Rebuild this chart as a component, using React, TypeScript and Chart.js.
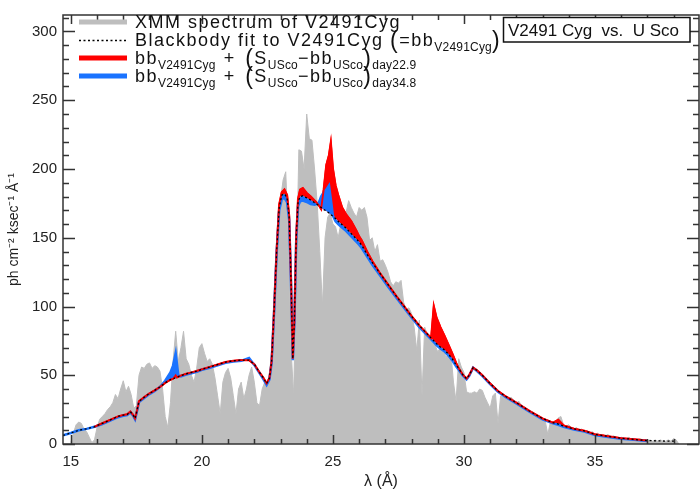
import React, { useEffect, useRef } from "react";
import { Chart, registerables } from "chart.js";

Chart.register(...registerables);

// ---------------- data ----------------
const X_MIN = 14.7;
const X_MAX = 38.97;
const Y_MIN = 0;
const Y_MAX = 312;
const xTickValues = [15, 20, 25, 30, 35];
const yTickValues = [0, 50, 100, 150, 200, 250, 300];

// XMM spectrum of V2491 Cyg, sampled every 0.1 Å starting at 15.0 Å
const xmmStart = 15.0;
const xmmStep = 0.1;
const xmmFlux = [
  1, 8, 14, 16, 15, 11, 9, 5, 1, 3,
  12, 18, 20, 22, 25, 27, 30, 36, 33, 40,
  46, 38, 42, 36, 26, 28, 50, 56, 55, 58,
  59, 55, 57, 56, 53, 40, 20, 12, 30, 60,
  82, 60, 70, 82, 62, 58, 50, 45, 55, 70,
  73, 66, 60, 62, 58, 48, 35, 22, 45, 52,
  55, 48, 35, 22, 40, 45, 33, 40, 50, 56,
  45, 30, 28, 40, 45, 42, 55, 75, 115, 167,
  178, 192, 198, 150, 70, 35, 120, 214, 213, 200,
  240, 222, 221, 200, 175, 140, 100, 150, 165, 168,
  160, 158, 150, 160, 170, 168, 177, 172, 168, 165,
  172, 170, 172, 165, 148, 150, 140, 145, 133, 134,
  130, 125, 118, 115, 118, 117, 119, 103, 98, 99,
  95, 85, 68, 90, 35, 85, 80, 76, 74, 72,
  67, 70, 74, 63, 65, 67, 45, 31, 62, 56,
  52, 38, 37, 37, 38, 37, 40, 39, 34, 30,
  26, 35, 37, 15, 35, 34, 35, 33, 34, 32,
  30, 31, 28, 27, 25, 24, 22, 22, 20, 19,
  19, 17, 7, 16, 15, 16, 19, 20, 14, 13,
  14, 12, 11, 12, 10, 11, 9, 10, 8, 9,
  7, 8, 6, 7, 6, 7, 5, 6, 5, 4,
  5, 4, 4, 5, 3, 4, 3, 4, 3, 3,
  2, 3, 2, 3, 2, 3, 2, 2, 3, 2,
  4, 3, 0,
];

// wavelength grid of the model curves
const modelWave = [
  14.7, 15.0, 15.3, 15.6, 15.9, 16.2, 16.5, 16.8, 17.0, 17.15,
  17.27, 17.38, 17.45, 17.52, 17.6, 17.8, 18.0, 18.2, 18.4, 18.6,
  18.8, 18.9, 19.0, 19.05, 19.1, 19.2, 19.4, 19.6, 19.8, 20.0,
  20.3, 20.6, 20.9, 21.2, 21.5, 21.8, 22.0, 22.2, 22.35, 22.47,
  22.58, 22.66, 22.75, 22.85, 22.95, 23.05, 23.15, 23.25, 23.33, 23.4,
  23.47, 23.53, 23.6, 23.67, 23.75, 23.85, 24.0, 24.15, 24.3, 24.45,
  24.55, 24.65, 24.75, 24.85, 24.92, 25.0, 25.1, 25.2, 25.35, 25.5,
  25.7, 25.9, 26.0, 26.1, 26.3, 26.5, 26.8, 27.1, 27.4, 27.7,
  28.0, 28.3, 28.6, 28.75, 28.85, 28.95, 29.1, 29.25, 29.4, 29.55,
  29.7, 29.8, 29.95, 30.1, 30.2, 30.35, 30.5, 30.7, 31.0, 31.3,
  31.6, 32.0, 32.5, 33.0, 33.4, 33.6, 33.8, 34.2, 34.6, 35.0,
  35.5, 36.0, 36.5, 37.0, 37.5, 38.1,
];

// Blackbody fit to V2491 Cyg
const bbFlux = [
  6.3, 8, 10, 11, 12.5, 15, 17.5, 20, 21, 21.5,
  23.5, 21, 18.5, 24, 31, 34, 36.8, 39, 41.5, 44.5,
  46.8, 47.5, 48.2, 48.5, 49, 49.7, 51, 52, 53, 54.3,
  56, 57.8, 59.5, 60.5, 61, 61, 58, 52, 48, 44,
  48, 60, 95, 139, 172, 181, 182, 179, 165, 120,
  62, 90, 150, 176, 180, 180.5, 179, 177.5, 175.5, 173.5,
  172, 170.5, 169.5, 168, 167, 165.5, 164, 162, 159.5, 157,
  153, 149, 147, 144.5, 138, 132, 124, 116, 108, 100.5,
  93, 86, 80, 77, 75, 73, 70.5, 68.5, 65.5, 62,
  57.5, 55, 50.5, 47.5, 50, 55.5, 53.5, 50, 44, 38.5,
  34.5, 30, 24, 18.5, 15.5, 14.5, 13, 11, 9.5, 7,
  5.5, 4.2, 3.3, 2.5, 2.2, 2.0,
];

// bb + (S_USco - bb_USco) day 22.9
const day229Flux = [
  null, null, null, null, 12.5, 15, 17.5, 20, 21, 21.5,
  23.5, 21, 18.5, 24, 31, 34, 36.8, 39, 41.5, 44.5,
  46.8, 47.5, 50, 48.5, 49, 49.7, 51, 52, 53, 54.3,
  56, 57.8, 59.5, 60.5, 61, 61, 58, 52, 48, 44,
  48, 60, 95, 140, 174, 183, 185, 181, 166, 120,
  62, 90, 151, 178, 185, 186, 182.5, 180, 177, 174,
  171, 185, 203, 210, 219, 200, 188, 181, 172, 167,
  162, 155, 151, 148, 140, 133, 124, 116, 108, 100.5,
  93, 86, 80, 77, 100, 92, 85, 79, 72.5, 66,
  59, 55, 50.5, 47.5, 50, 55.5, 53.5, 50, 44, 38.5,
  34.5, 30, 24, 18.5, 15.5, 17.5, 13.5, 11, 9.5, 7,
  5.5, 4.2, 3.3, 2.5, null, null,
];

// bb + (S_USco - bb_USco) day 34.8
const day348Flux = [
  6.3, 8, 10, 11, 12.5, 14.5, 17, 19.5, 20.5, 21,
  23, 20.5, 18, 23.5, 30.5, 33.5, 36.3, 38.5, 41.5, 46,
  52, 57, 66, 58, 50, 49.2, 50.5, 51.5, 52.5, 54,
  55.5, 57.3, 59, 60, 60.5, 62.5, 57.5, 51.5, 47, 43,
  47, 59, 94, 138, 170, 178, 179, 176, 163, 118,
  61, 89, 148, 173, 176.5, 177, 176, 174.5, 174, 175,
  180, 183, 185, 188, 178, 166, 162, 160, 157.5, 155,
  151, 147, 145, 142.5, 136.5, 130.5, 122.5, 114.5, 107, 99.5,
  92, 85, 79, 76, 74, 72, 69.5, 67.5, 64.5, 61,
  56.5, 54, 50, 47, 49.5, 55.5, 53, 49.5, 43.5, 38,
  34, 29.5, 23.5, 18, 15, 14, 12.5, 10.5, 9, 6.5,
  5, 3.8, 3, 2.2, null, null,
];

// ---------------- styling ----------------
const FONT = "'Liberation Sans', Arial, sans-serif";
const GRAY = "#bebebe";
const RED = "#ff0000";
const BLUE = "#1a73ff";
const AXIS = "#333333";

type Part = { t: string; size: number; dy?: number; sp?: number };

function drawSpaced(ctx: CanvasRenderingContext2D, text: string, x: number, y: number, sp: number) {
  for (const ch of text) {
    ctx.fillText(ch, x, y);
    x += ctx.measureText(ch).width + sp;
  }
  return x;
}

function drawRich(ctx: CanvasRenderingContext2D, x: number, baseline: number, parts: Part[]) {
  for (const p of parts) {
    ctx.font = `${p.size}px ${FONT}`;
    const sp = p.sp !== undefined ? p.sp : p.size >= 16 ? 1.5 : 0.2;
    x = drawSpaced(ctx, p.t, x, baseline + (p.dy || 0), sp);
  }
  return x;
}

const framePlugin = {
  id: "frameTicks",
  afterDraw(chart: any) {
    const { ctx, chartArea: a, scales } = chart;
    const xs = scales.x;
    const ys = scales.y;
    ctx.save();
    ctx.strokeStyle = AXIS;
    ctx.lineWidth = 1.5;
    ctx.strokeRect(a.left, a.top, a.right - a.left, a.bottom - a.top);
    ctx.beginPath();
    for (let v = 15; v <= 38; v += 1) {
      const px = Math.round(xs.getPixelForValue(v)) + 0.5;
      const len = v % 5 === 0 ? 9 : 5;
      ctx.moveTo(px, a.bottom);
      ctx.lineTo(px, a.bottom - len);
      ctx.moveTo(px, a.top);
      ctx.lineTo(px, a.top + len);
    }
    for (let v = 0; v <= 310; v += 10) {
      const py = Math.round(ys.getPixelForValue(v)) + 0.5;
      const len = v % 50 === 0 ? 12 : 6;
      ctx.moveTo(a.left, py);
      ctx.lineTo(a.left + len, py);
      ctx.moveTo(a.right, py);
      ctx.lineTo(a.right - len, py);
    }
    ctx.stroke();

    // legend
    const lx0 = 79;
    const lx1 = 127;
    const tx = 135;
    ctx.lineCap = "butt";
    ctx.strokeStyle = GRAY;
    ctx.lineWidth = 5;
    ctx.beginPath();
    ctx.moveTo(lx0, 22);
    ctx.lineTo(lx1, 22);
    ctx.stroke();
    ctx.strokeStyle = "#000";
    ctx.lineWidth = 1.3;
    ctx.setLineDash([2, 2.5]);
    ctx.beginPath();
    ctx.moveTo(lx0, 40.5);
    ctx.lineTo(lx1, 40.5);
    ctx.stroke();
    ctx.setLineDash([]);
    ctx.strokeStyle = RED;
    ctx.lineWidth = 5;
    ctx.beginPath();
    ctx.moveTo(lx0, 58);
    ctx.lineTo(lx1, 58);
    ctx.stroke();
    ctx.strokeStyle = BLUE;
    ctx.beginPath();
    ctx.moveTo(lx0, 76);
    ctx.lineTo(lx1, 76);
    ctx.stroke();

    ctx.fillStyle = "#111";
    ctx.textBaseline = "alphabetic";
    ctx.textAlign = "left";
    drawRich(ctx, tx, 28, [{ t: "XMM spectrum of V2491Cyg", size: 18 }]);
    drawRich(ctx, tx, 46, [
      { t: "Blackbody fit to V2491Cyg ", size: 18 },
      { t: "(", size: 23, dy: 2 },
      { t: "=bb", size: 18 },
      { t: "V2491Cyg", size: 12, dy: 5 },
      { t: ")", size: 23, dy: 2 },
    ]);
    const line3 = (base: number, day: string) =>
      drawRich(ctx, tx, base, [
        { t: "bb", size: 18 },
        { t: "V2491Cyg", size: 12, dy: 5 },
        { t: " + ", size: 18, sp: 3 },
        { t: "(", size: 23, dy: 2 },
        { t: "S", size: 18 },
        { t: "USco", size: 12, dy: 5 },
        { t: "\u2212bb", size: 18 },
        { t: "USco", size: 12, dy: 5 },
        { t: ")", size: 23, dy: 2 },
        { t: day, size: 12, dy: 5 },
      ]);
    line3(64, "day22.9");
    line3(82, "day34.8");

    // label box
    ctx.fillStyle = "#fff";
    ctx.fillRect(503, 17, 187, 25);
    ctx.strokeStyle = "#111";
    ctx.lineWidth = 1.5;
    ctx.strokeRect(503.5, 17.5, 186.5, 24.5);
    ctx.fillStyle = "#111";
    ctx.font = `17px ${FONT}`;
    ctx.fillText("V2491 Cyg  vs.  U Sco", 508, 35.5);
    ctx.restore();
  },
};

export default function App() {
  const canvasRef = useRef<HTMLCanvasElement | null>(null);

  useEffect(() => {
    const canvas = canvasRef.current;
    if (!canvas) return;
    const xmmData = xmmFlux.map((v, i) => ({ x: +(xmmStart + i * xmmStep).toFixed(2), y: v }));
    const mk = (arr: (number | null)[]) => modelWave.map((w, i) => ({ x: w, y: arr[i] }));

    const chart = new Chart(canvas, {
      type: "line",
      data: {
        datasets: [
          {
            label: "XMM spectrum of V2491Cyg",
            data: xmmData,
            borderColor: GRAY,
            backgroundColor: GRAY,
            borderWidth: 1,
            pointRadius: 0,
            fill: "origin",
            order: 5,
          } as any,
          {
            label: "day22.9",
            data: mk(day229Flux),
            borderColor: RED,
            backgroundColor: RED,
            borderWidth: 2.2,
            pointRadius: 0,
            fill: { target: 4 },
            spanGaps: false,
            order: 4,
          },
          {
            label: "day34.8",
            data: mk(day348Flux),
            borderColor: BLUE,
            backgroundColor: BLUE,
            borderWidth: 2.5,
            pointRadius: 0,
            fill: { target: 4 },
            spanGaps: false,
            order: 3,
          },
          {
            label: "day22.9 outline",
            data: mk(day229Flux),
            borderColor: RED,
            borderWidth: 1.8,
            pointRadius: 0,
            fill: false,
            spanGaps: false,
            order: 2,
          },
          {
            label: "Blackbody fit",
            data: mk(bbFlux),
            borderColor: "#000",
            borderWidth: 1.3,
            borderDash: [2, 2.5],
            pointRadius: 0,
            fill: false,
            order: 1,
          },
        ],
      },
      options: {
        responsive: false,
        maintainAspectRatio: false,
        animation: false,
        layout: { padding: { top: 1, right: 1, left: 0, bottom: 0 } },
        plugins: {
          legend: { display: false },
          tooltip: { enabled: false },
        },
        scales: {
          x: {
            type: "linear",
            min: X_MIN,
            max: X_MAX,
            afterBuildTicks: (s: any) => {
              s.ticks = xTickValues.map((v) => ({ value: v }));
            },
            afterFit: (s: any) => {
              s.height = 56;
            },
            grid: { display: false, drawTicks: false },
            border: { display: false },
            ticks: {
              font: { family: FONT, size: 15 },
              color: "#222",
              padding: 9,
              maxRotation: 0,
              autoSkip: false,
              callback: (v: any) => String(v),
            },
            title: {
              display: true,
              text: "\u03bb (\u00c5)",
              color: "#222",
              font: { family: FONT, size: 16 },
              padding: { top: 0, bottom: 9 },
            },
          },
          y: {
            type: "linear",
            min: Y_MIN,
            max: Y_MAX,
            afterBuildTicks: (s: any) => {
              s.ticks = yTickValues.map((v) => ({ value: v }));
            },
            afterFit: (s: any) => {
              s.width = 63;
            },
            grid: { display: false, drawTicks: false },
            border: { display: false },
            ticks: {
              font: { family: FONT, size: 15 },
              color: "#222",
              padding: 6,
              autoSkip: false,
              callback: (v: any) => String(v),
            },
            title: {
              display: true,
              text: "ph cm\u207b\u00b2 ksec\u207b\u00b9 \u00c5\u207b\u00b9",
              color: "#222",
              font: { family: FONT, size: 14 },
              padding: { top: 6, bottom: 0 },
            },
          },
        },
      },
      plugins: [framePlugin],
    } as any);

    return () => chart.destroy();
  }, []);

  return (
    <div style={{ position: "absolute", left: 0, top: 0, width: 700, height: 500, background: "#fff" }}>
      <canvas ref={canvasRef} width={700} height={500} style={{ display: "block" }} />
    </div>
  );
}
